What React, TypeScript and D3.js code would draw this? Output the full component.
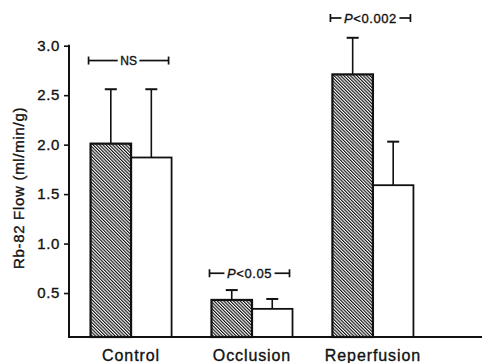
import React, { useRef, useEffect } from 'react';
import * as d3 from 'd3';

// Rb-82 flow by phase, two groups (hatched / open bars)
const phases = ['Control', 'Occlusion', 'Reperfusion'];
const groups = ['hatched', 'open'];
const hatchedFlow = [2.01, 0.43, 2.71];
const hatchedSD = [0.55, 0.10, 0.37];
const openFlow = [1.87, 0.34, 1.59];
const openSD = [0.69, 0.10, 0.44];
const yTicks = [0.5, 1.0, 1.5, 2.0, 2.5, 3.0];
const sigLabels = ['NS', 'P<0.05', 'P<0.002'];
const sigLevels = [2.85, 0.70, 3.28];

const FONT = '"Liberation Sans", Arial, Helvetica, sans-serif';

function App() {
    const svgRef = useRef<SVGSVGElement>(null);

    useEffect(() => {
        if (!svgRef.current) return;
        const svg = d3.select(svgRef.current);
        svg.selectAll('*').remove();

        const x = d3.scaleBand().domain(phases).range([70, 434]).paddingInner(0.33).paddingOuter(0.17);
        const xs = d3.scaleBand().domain(groups).range([0, x.bandwidth()]);
        const y = d3.scaleLinear().domain([0, 3]).range([342.5, 45.7]);
        const baseY = 337;
        const axisX = 69;

        // scanned print: text a little heavier than regular
        const ink = (sel: any) => sel
            .attr('fill', '#111')
            .attr('stroke', '#111')
            .attr('stroke-width', 0.35)
            .style('font-family', FONT);

        // diagonal hatching
        const pat = svg.append('defs').append('pattern')
            .attr('id', 'hatch')
            .attr('patternUnits', 'userSpaceOnUse')
            .attr('width', 2.3)
            .attr('height', 10)
            .attr('patternTransform', 'rotate(-45)');
        pat.append('rect').attr('width', 2.3).attr('height', 10).attr('fill', '#fff');
        pat.append('rect').attr('width', 1.15).attr('height', 10).attr('fill', '#111');

        const rows = phases.map((p, i) => ({
            phase: p,
            bars: [
                { key: 'hatched', v: hatchedFlow[i], sd: hatchedSD[i] },
                { key: 'open', v: openFlow[i], sd: openSD[i] },
            ],
        }));

        const g = svg.selectAll('g.phase')
            .data(rows)
            .join('g')
            .attr('class', 'phase')
            .attr('transform', d => `translate(${x(d.phase)},0)`);

        // error bars (upper only)
        const err = g.selectAll('g.err').data(d => d.bars).join('g').attr('class', 'err');
        err.append('line')
            .attr('x1', d => xs(d.key)! + xs.bandwidth() / 2)
            .attr('x2', d => xs(d.key)! + xs.bandwidth() / 2)
            .attr('y1', d => y(d.v))
            .attr('y2', d => y(d.v + d.sd))
            .attr('stroke', '#111')
            .attr('stroke-width', 1.6);
        err.append('line')
            .attr('x1', d => xs(d.key)! + xs.bandwidth() / 2 - 6)
            .attr('x2', d => xs(d.key)! + xs.bandwidth() / 2 + 6)
            .attr('y1', d => y(d.v + d.sd))
            .attr('y2', d => y(d.v + d.sd))
            .attr('stroke', '#111')
            .attr('stroke-width', 2);

        // bars: open first so the hatched outline sits on top
        g.selectAll('rect.bar')
            .data(d => [d.bars[1], d.bars[0]])
            .join('rect')
            .attr('class', 'bar')
            .attr('x', d => xs(d.key)!)
            .attr('width', xs.bandwidth())
            .attr('y', d => y(d.v))
            .attr('height', d => baseY - y(d.v))
            .attr('fill', d => d.key === 'hatched' ? 'url(#hatch)' : '#fff')
            .attr('stroke', '#111')
            .attr('stroke-width', d => d.key === 'hatched' ? 2.2 : 1.8);

        // y axis
        const yAxis = svg.append('g')
            .attr('transform', `translate(${axisX},0)`)
            .call(d3.axisLeft(y).tickValues(yTicks).tickFormat(d3.format('.1f')).tickSize(5).tickPadding(4));
        yAxis.select('.domain').remove();
        yAxis.selectAll('.tick line').attr('stroke', '#111').attr('stroke-width', 1.6);
        ink(yAxis.selectAll('.tick text'))
            .style('font-size', '15px')
            .style('letter-spacing', '0.6px');
        svg.append('line')
            .attr('x1', axisX).attr('x2', axisX)
            .attr('y1', y(3) - 1).attr('y2', baseY)
            .attr('stroke', '#111').attr('stroke-width', 2);

        // x axis baseline
        svg.append('line')
            .attr('x1', axisX - 1).attr('x2', 482)
            .attr('y1', baseY).attr('y2', baseY)
            .attr('stroke', '#111').attr('stroke-width', 2);

        ink(svg.selectAll('text.xlab')
            .data(phases)
            .join('text')
            .attr('class', 'xlab')
            .attr('x', d => x(d)! + x.bandwidth() / 2)
            .attr('y', 360.5)
            .attr('text-anchor', 'middle'))
            .style('font-size', '16px')
            .style('letter-spacing', '0.9px')
            .text(d => d);

        ink(svg.append('text')
            .attr('transform', 'translate(24,188) rotate(-90)')
            .attr('text-anchor', 'middle'))
            .style('font-size', '15px')
            .style('letter-spacing', '0.7px')
            .text('Rb-82 Flow (ml/min/g)');

        // significance brackets
        phases.forEach((p, i) => {
            const x0 = x(p)! - 2;
            const x1 = x0 + x.bandwidth() - 1;
            const cx = (x0 + x1) / 2;
            const ly = y(sigLevels[i]);
            const lab = sigLabels[i];
            const t = ink(svg.append('text')
                .attr('x', cx)
                .attr('y', ly)
                .attr('dy', '0.36em')
                .attr('text-anchor', 'middle'))
                .style('font-size', lab === 'NS' ? '12px' : '13px')
                .style('letter-spacing', lab === 'NS' ? '0px' : '0.6px');
            if (lab.startsWith('P')) {
                t.append('tspan').style('font-style', 'italic').text('P');
                t.append('tspan').text(lab.slice(1));
            } else {
                t.text(lab);
            }
            const w = (t.node() as SVGTextElement).getComputedTextLength();
            const bl = svg.append('g').attr('stroke', '#111').attr('stroke-width', 1.7);
            bl.append('line').attr('x1', x0).attr('x2', cx - w / 2 - 2.5).attr('y1', ly).attr('y2', ly);
            bl.append('line').attr('x1', cx + w / 2 + 2.5).attr('x2', x1).attr('y1', ly).attr('y2', ly);
            bl.append('line').attr('x1', x0).attr('x2', x0).attr('y1', ly - 4).attr('y2', ly + 4);
            bl.append('line').attr('x1', x1).attr('x2', x1).attr('y1', ly - 4).attr('y2', ly + 4);
        });
    }, []);

    return (
        <svg
            ref={svgRef}
            width={482}
            height={363}
            style={{ position: 'absolute', left: 0, top: 0, background: '#fff' }}
        />
    );
}

export default App;
